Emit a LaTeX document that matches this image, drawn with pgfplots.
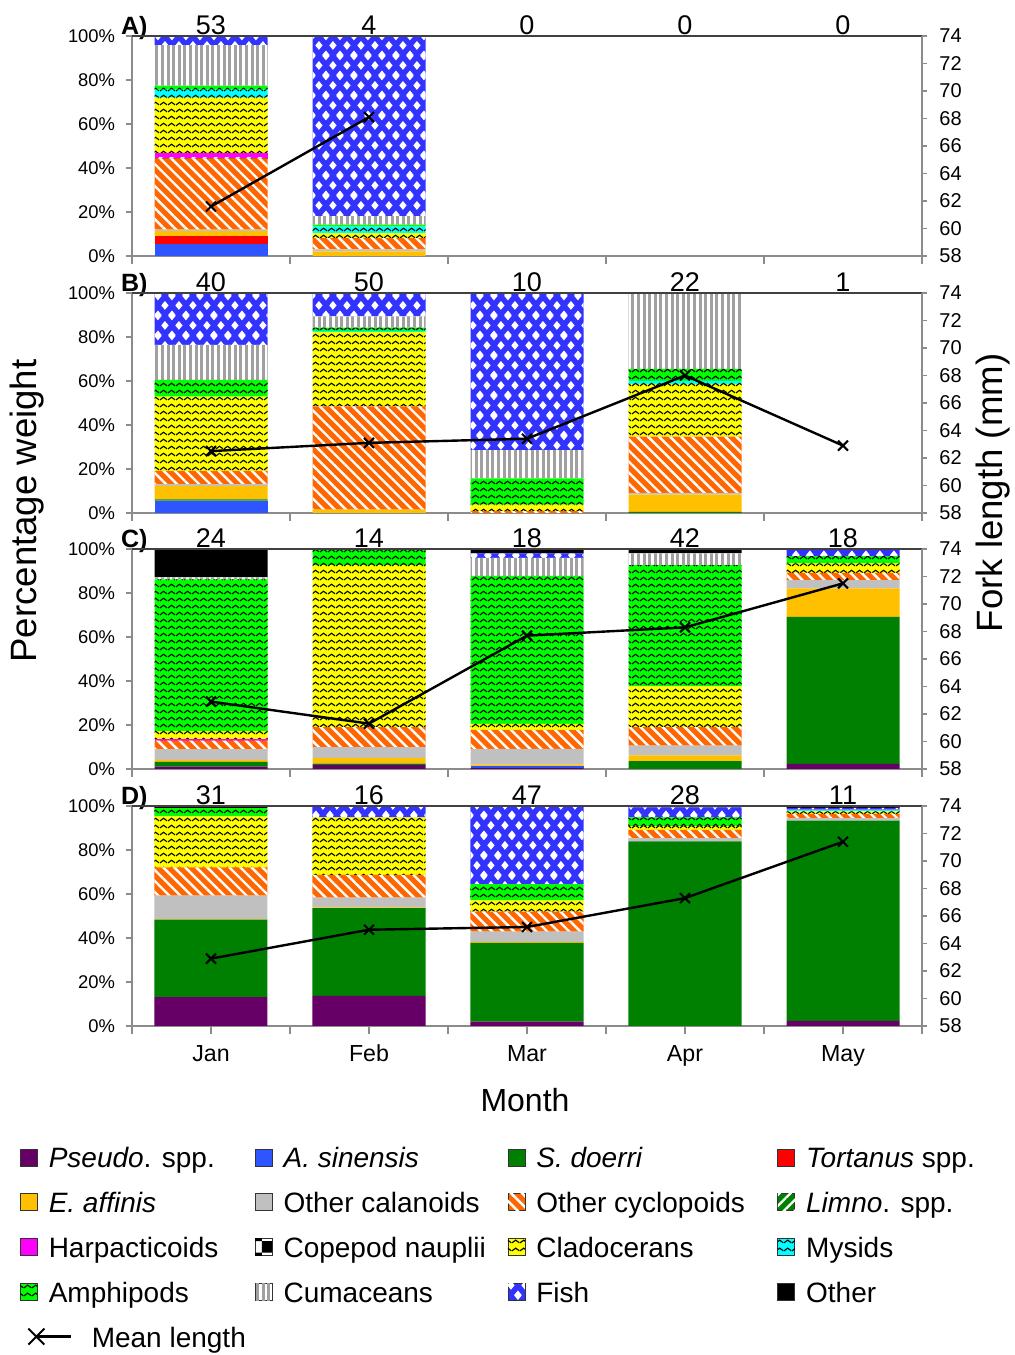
\documentclass[border=0pt]{standalone}
\usepackage{pgfplots}
\pgfplotsset{compat=1.18}
\usepackage{pgfplotstable}
\usepackage{fontspec}
\setmainfont{Liberation Sans}
\usetikzlibrary{patterns,patterns.meta}

\definecolor{cP}{HTML}{660066}
\definecolor{cAs}{HTML}{2E55FF}
\definecolor{cSd}{HTML}{008000}
\definecolor{cT}{HTML}{FF0000}
\definecolor{cEa}{HTML}{FFC000}
\definecolor{cOca}{HTML}{C0C0C0}
\definecolor{cOcy}{HTML}{FF6600}
\definecolor{cL}{HTML}{008000}
\definecolor{cH}{HTML}{FF00FF}
\definecolor{cCl}{HTML}{FFFF00}
\definecolor{cMy}{HTML}{00FFFF}
\definecolor{cAm}{HTML}{00FF00}
\definecolor{cCu}{HTML}{A0A0A0}
\definecolor{cF}{HTML}{3333FF}
\definecolor{axgray}{HTML}{8C8C8C}

\pgfdeclarepatternformonly{wave}{\pgfqpoint{0pt}{-0.6pt}}{\pgfqpoint{4pt}{3.1pt}}{\pgfqpoint{4pt}{3.7pt}}{%
  \pgfsetlinewidth{0.6pt}%
  \pgfpathmoveto{\pgfqpoint{0pt}{0pt}}%
  \pgfpathcurveto{\pgfqpoint{1pt}{0pt}}{\pgfqpoint{1pt}{1.4pt}}{\pgfqpoint{2pt}{1.4pt}}%
  \pgfpathcurveto{\pgfqpoint{3pt}{1.4pt}}{\pgfqpoint{3pt}{0pt}}{\pgfqpoint{4pt}{0pt}}%
  \pgfusepath{stroke}%
}
\newcommand\diam[2]{%
  \pgfpathmoveto{\pgfqpoint{#1pt}{\the\dimexpr#2pt-2.3pt\relax}}%
  \pgfpathlineto{\pgfqpoint{\the\dimexpr#1pt+1.9pt\relax}{#2pt}}%
  \pgfpathlineto{\pgfqpoint{#1pt}{\the\dimexpr#2pt+2.3pt\relax}}%
  \pgfpathlineto{\pgfqpoint{\the\dimexpr#1pt-1.9pt\relax}{#2pt}}%
  \pgfpathclose}
\pgfdeclarepatternformonly{fishdiam}{\pgfqpoint{0pt}{0pt}}{\pgfqpoint{7.2pt}{10pt}}{\pgfqpoint{7.2pt}{10pt}}{%
  \diam{3.6}{5}\diam{0}{0}\diam{7.2}{0}\diam{0}{10}\diam{7.2}{10}%
  \pgfusepath{fill}%
}

\pgfplotstableread{
x P As Sd T Ea Oca Ocy L H N Cl My Am Cu F O
0 0 5.3 0 3.6 2.4 0.7 32.4 0.3 2.0 0 25.3 3.6 1.8 18.4 4.2 0
1 0 0 0 0 2.1 0.9 5.1 0 0 0 2.3 2.9 1.0 3.8 81.9 0
2 0 0 0 0 0 0 0 0 0 0 0 0 0 0 0 0
3 0 0 0 0 0 0 0 0 0 0 0 0 0 0 0 0
4 0 0 0 0 0 0 0 0 0 0 0 0 0 0 0 0
}\tabA
\pgfplotstableread{
x P As Sd T Ea Oca Ocy L H N Cl My Am Cu F O
0 0 5.6 0.6 0 6.1 0.8 6.0 0 0 0 33.8 0 7.6 15.9 23.6 0
1 0 0 0 0 1.5 0 47.0 0 0 0 33.7 0.6 1.5 5.1 10.6 0
2 0 0 0 0 0 0 0.9 0 0 0 2.9 0 11.9 12.9 71.4 0
3 0 0 0.5 0 7.9 0.7 25.6 0 0 0 24.0 1.3 5.5 34.5 0 0
4 0 0 0 0 0 0 0 0 0 0 0 0 0 0 0 0
}\tabB
\pgfplotstableread{
x P As Sd T Ea Oca Ocy L H N Cl My Am Cu F O
0 1.1 0 2.1 0 0.9 4.9 3.9 0 0.6 0 3.7 0 69.0 0.9 0 12.9
1 1.8 0 0.6 0 2.6 4.9 9.1 0 0 0 73.7 0 7.3 0 0 0
2 0.5 0.7 0 0 0.8 7.1 8.7 0 0 0 2.7 0 67.3 8.2 2.0 2.0
3 0 0 3.6 0 2.6 4.4 8.4 0 0 0 18.5 0 55.2 5.3 0 2.0
4 2.3 0 66.8 0 13.0 3.8 3.3 0 0 0 4.3 0 3.3 0 2.7 0
}\tabC
\pgfplotstableread{
x P As Sd T Ea Oca Ocy L H N Cl My Am Cu F O
0 13.1 0 35.2 0 0.3 10.7 12.8 0 0 0 23.2 0 3.7 0 0 1.0
1 13.7 0 39.9 0 0.3 4.5 10.3 0 0 0 26.1 0 0 0 5.2 0
2 2.0 0 35.8 0 0.4 4.7 9.1 0 0 0 5.1 0 7.4 0 35.5 0
3 0 0 83.9 0 0 1.5 3.8 0 0 0 1.8 0 3.8 0 4.6 0.6
4 2.3 0 91.0 0 0 1.2 1.9 0 0 0 1.2 0.7 0 0 0.8 0.9
}\tabD

\pgfplotsset{
  sP/.style={fill=cP, draw=none},
  sAs/.style={fill=cAs, draw=none},
  sSd/.style={fill=cSd, draw=none},
  sT/.style={fill=cT, draw=none},
  sEa/.style={fill=cEa, draw=none},
  sOca/.style={fill=cOca, draw=none},
  sOcy/.style={fill=cOcy, draw=none, postaction={pattern={Lines[angle=-45,distance=3.9pt,line width=1.2pt]}, pattern color=white}},
  sL/.style={fill=cL, draw=none, postaction={pattern={Lines[angle=45,distance=3.9pt,line width=1.2pt]}, pattern color=white}},
  sH/.style={fill=cH, draw=none},
  sN/.style={fill=white, draw=none, postaction={pattern=checkerboard, pattern color=black}},
  sCl/.style={fill=cCl, draw=none, postaction={pattern=wave, pattern color=black}},
  sMy/.style={fill=cMy, draw=none, postaction={pattern=wave, pattern color=black}},
  sAm/.style={fill=cAm, draw=none, postaction={pattern=wave, pattern color=black}},
  sCu/.style={fill=white, draw=none, postaction={pattern={Lines[angle=90,distance=2.8pt,line width=1.5pt]}, pattern color=cCu}},
  sF/.style={fill=cF, draw=none, postaction={pattern=fishdiam, pattern color=white}},
  sO/.style={fill=black, draw=none},
  baraxis/.style={
    width=395pt, height=110pt, scale only axis, anchor=south west,
    ybar stacked, bar width=56.5pt, clip=false,
    xmin=-0.5, xmax=4.5, ymin=0, ymax=100,
    axis x line*=bottom, axis y line*=left,
    axis line style={draw=axgray, line width=0.8pt, -},
    ytick={0,20,40,60,80,100},
    yticklabels={0\%,20\%,40\%,60\%,80\%,100\%},
    xtick={-0.5,0.5,1.5,2.5,3.5,4.5}, xticklabels={},
    tick align=outside,
    tick style={draw=axgray, line width=0.8pt},
    ytick style={/pgfplots/major tick length=3pt},
    xtick style={/pgfplots/major tick length=4pt},
    yticklabel style={font=\fontsize{9.2}{10}\selectfont, anchor=east, inner sep=0pt, xshift=-4pt},
    legend image code/.code={\draw[##1, draw=black!80, line width=0.4pt] (0pt,-4.25pt) rectangle (8.5pt,4.25pt);},
  },
  lineaxis/.style={
    width=395pt, height=110pt, scale only axis, anchor=south west,
    xmin=-0.5, xmax=4.5, ymin=58, ymax=74, clip=false,
    axis y line*=right, axis x line*=top,
    axis line style={draw=axgray, line width=0.8pt, -},
    x axis line style={draw=black!75},
    xtick=\empty, ytick={58,60,...,74},
    tick align=outside, tick style={draw=axgray, line width=0.8pt}, major tick length=2.5pt,
    yticklabel style={font=\fontsize{10}{11}\selectfont, anchor=west, inner sep=0pt, xshift=6pt},
    /pgf/number format/assume math mode=true,
  },
  meanline/.style={black, line width=1.2pt, mark=x, mark size=3.5pt, mark options={line width=1pt}},
  counts/.style={draw=none, mark=none, nodes near coords, point meta=explicit symbolic,
    every node near coord/.append style={anchor=base, inner sep=0pt, yshift=0.6pt, font=\fontsize{13.5}{15}\selectfont, text=black}},
}

\newcommand\stackbars[1]{%
  \addplot[sP] table[x=x,y=P]{#1};
  \addplot[sAs] table[x=x,y=As]{#1};
  \addplot[sSd] table[x=x,y=Sd]{#1};
  \addplot[sT] table[x=x,y=T]{#1};
  \addplot[sEa] table[x=x,y=Ea]{#1};
  \addplot[sOca] table[x=x,y=Oca]{#1};
  \addplot[sOcy] table[x=x,y=Ocy]{#1};
  \addplot[sL] table[x=x,y=L]{#1};
  \addplot[sH] table[x=x,y=H]{#1};
  \addplot[sN] table[x=x,y=N]{#1};
  \addplot[sCl] table[x=x,y=Cl]{#1};
  \addplot[sMy] table[x=x,y=My]{#1};
  \addplot[sAm] table[x=x,y=Am]{#1};
  \addplot[sCu] table[x=x,y=Cu]{#1};
  \addplot[sF] table[x=x,y=F]{#1};
  \addplot[sO] table[x=x,y=O]{#1};
}
\newcommand\plabel[1]{\node[anchor=base, inner sep=0pt, font=\bfseries\fontsize{12.5}{14}\selectfont] at (rel axis cs:0.003,1) [yshift=0.5pt] {#1};}
\newcommand\lA[1]{\makebox[108.5pt][l]{\hspace{5.5pt}\strut #1}}
\newcommand\lB[1]{\makebox[117.5pt][l]{\hspace{5.5pt}\strut #1}}
\newcommand\lC[1]{\makebox[126pt][l]{\hspace{5.5pt}\strut #1}}
\newcommand\lD[1]{\makebox[110pt][l]{\hspace{5.5pt}\strut #1}}

\begin{document}
\begin{tikzpicture}
\path[use as bounding box] (0,0) rectangle (507pt,677.5pt);

% Panel A
\begin{axis}[baraxis, at={(66pt,549.5pt)}]
  \stackbars{\tabA}
  \plabel{A)}
\end{axis}
\begin{axis}[lineaxis, at={(66pt,549.5pt)}]
  \addplot[meanline] coordinates {(0,61.6) (1,68.1)};
  \addplot[counts] coordinates {(0,74)[53] (1,74)[4] (2,74)[0] (3,74)[0] (4,74)[0]};
\end{axis}

% Panel B
\begin{axis}[baraxis, at={(66pt,421pt)}]
  \stackbars{\tabB}
  \plabel{B)}
\end{axis}
\begin{axis}[lineaxis, at={(66pt,421pt)}]
  \addplot[meanline] coordinates {(0,62.5) (1,63.1) (2,63.4) (3,68.0) (4,62.9)};
  \addplot[counts] coordinates {(0,74)[40] (1,74)[50] (2,74)[10] (3,74)[22] (4,74)[1]};
\end{axis}

% Panel C
\begin{axis}[baraxis, at={(66pt,293pt)}]
  \stackbars{\tabC}
  \plabel{C)}
\end{axis}
\begin{axis}[lineaxis, at={(66pt,293pt)}]
  \addplot[meanline] coordinates {(0,62.9) (1,61.3) (2,67.7) (3,68.3) (4,71.5)};
  \addplot[counts] coordinates {(0,74)[24] (1,74)[14] (2,74)[18] (3,74)[42] (4,74)[18]};
\end{axis}

% Panel D
\begin{axis}[baraxis, at={(66pt,164.5pt)},
  extra x ticks={0,1,2,3,4}, extra x tick labels={Jan,Feb,Mar,Apr,May},
  extra x tick style={/pgfplots/major tick length=0pt,
    xticklabel style={font=\fontsize{11.6}{13}\selectfont, anchor=base, inner sep=0pt, yshift=-18pt}},
  legend columns=4, legend cell align=left,
  legend style={at={(-0.1418,-0.5364)}, anchor=north west, draw=none, fill=none,
    inner sep=0pt, outer sep=0pt, row sep=9pt, column sep=0pt,
    font=\fontsize{14}{17}\selectfont, nodes={inner sep=0pt}},
]
  \stackbars{\tabD}
  \plabel{D)}
  \addlegendimage{legend image code/.code={%
    \path[draw=none, fill=none] (0pt,-4.25pt) rectangle (8.5pt,4.25pt);
    \draw[overlay, black, line width=1.2pt] (8pt,0pt) -- (25.5pt,0pt);
    \draw[overlay, black, line width=0.9pt] (4pt,-4pt) -- (12pt,4pt) (4pt,4pt) -- (12pt,-4pt);}}
  \legend{
    {\lA{\textit{Pseudo}. spp.}}, {\lB{\textit{A. sinensis}}}, {\lC{\textit{S. doerri}}}, {\lD{\textit{Tortanus} spp.}},
    {\lA{\textit{E. affinis}}}, {\lB{Other calanoids}}, {\lC{Other cyclopoids}}, {\lD{\textit{Limno}. spp.}},
    {\lA{Harpacticoids}}, {\lB{Copepod nauplii}}, {\lC{Cladocerans}}, {\lD{Mysids}},
    {\lA{Amphipods}}, {\lB{Cumaceans}}, {\lC{Fish}}, {\lD{Other}},
    {\makebox[108.5pt][l]{\hspace{27pt}\strut Mean length}}}
\end{axis}
\begin{axis}[lineaxis, at={(66pt,164.5pt)}]
  \addplot[meanline] coordinates {(0,62.9) (1,65.0) (2,65.2) (3,67.3) (4,71.4)};
  \addplot[counts] coordinates {(0,74)[31] (1,74)[16] (2,74)[47] (3,74)[28] (4,74)[11]};
\end{axis}

\node[rotate=90, font=\fontsize{18.3}{20}\selectfont] at (13.5pt,422pt) {Percentage weight};
\node[rotate=90, font=\fontsize{18.3}{20}\selectfont] at (496.5pt,431pt) {Fork length (mm)};
\node[font=\fontsize{16}{18}\selectfont] at (262.5pt,127.5pt) {Month};
\end{tikzpicture}
\end{document}
